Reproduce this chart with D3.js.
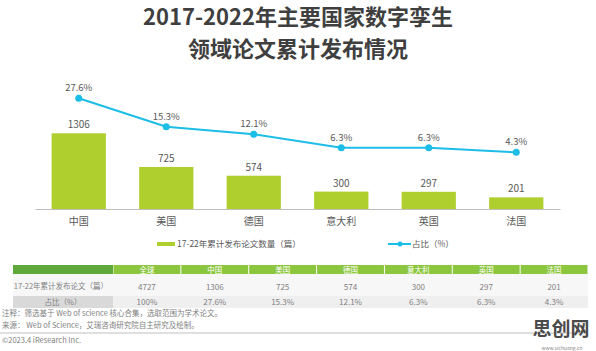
<!DOCTYPE html>
<html>
<head>
<meta charset="utf-8">
<script src="https://cdn.jsdelivr.net/npm/d3@7"></script>
<style>
  body { margin: 0; background: #fff; }
  svg { display: block; font-family: "Noto Sans CJK SC", "Noto Sans", sans-serif; }
</style>
</head>
<body>
<svg width="596" height="351"></svg>
<script>
// data
var countries = ["中国", "美国", "德国", "意大利", "英国", "法国"];
var papers = [1306, 725, 574, 300, 297, 201];
var shares = [27.6, 15.3, 12.1, 6.3, 6.3, 4.3];
var tableHeader = ["全球", "中国", "美国", "德国", "意大利", "英国", "法国"];
var tablePapers = ["4727", "1306", "725", "574", "300", "297", "201"];
var tableShares = ["100%", "27.6%", "15.3%", "12.1%", "6.3%", "6.3%", "4.3%"];

var barColor = "#afcf2f",
  lineColor = "#1cbde6",
  textColor = "#595959";

var svg = d3.select("svg");

// title
svg.append("text")
  .attr("x", 298).attr("y", 25)
  .attr("text-anchor", "middle")
  .attr("font-size", 22).attr("font-weight", "bold")
  .attr("fill", "#3f3f3f")
  .text("2017-2022年主要国家数字孪生");
svg.append("text")
  .attr("x", 298).attr("y", 57)
  .attr("text-anchor", "middle")
  .attr("font-size", 22).attr("font-weight", "bold")
  .attr("fill", "#3f3f3f")
  .text("领域论文累计发布情况");

var x = d3.scaleBand()
  .domain(countries)
  .range([35, 560])
  .paddingInner(0.38)
  .paddingOuter(0.19);

var y = d3.scaleLinear().domain([0, 1306]).range([209, 133.3]);
var y2 = d3.scaleLinear().domain([0, 27.6]).range([162.3, 98.3]);

// bars
svg.append("g").selectAll("rect")
  .data(papers)
  .enter().append("rect")
  .attr("x", function(d, i) { return x(countries[i]); })
  .attr("y", function(d) { return y(d); })
  .attr("width", x.bandwidth())
  .attr("height", function(d) { return y(0) - y(d); })
  .attr("fill", barColor);

svg.append("g").selectAll("text")
  .data(papers)
  .enter().append("text")
  .attr("x", function(d, i) { return x(countries[i]) + x.bandwidth() / 2; })
  .attr("y", function(d) { return y(d) - 5; })
  .attr("text-anchor", "middle")
  .attr("font-size", 10)
  .attr("fill", textColor)
  .text(function(d) { return d; });

// x axis
var xAxis = svg.append("g")
  .attr("transform", "translate(0,209)")
  .call(d3.axisBottom(x).tickSize(0).tickPadding(9));
xAxis.select(".domain").attr("stroke", "#bfbfbf").attr("stroke-width", 1);
xAxis.selectAll("text")
  .attr("font-size", 10)
  .attr("fill", textColor)
  .attr("font-family", "Noto Sans CJK SC");

// share line
var cx = function(i) { return x(countries[i]) + x.bandwidth() / 2; };
var line = d3.line()
  .x(function(d, i) { return cx(i); })
  .y(function(d) { return y2(d); });

svg.append("path")
  .datum(shares)
  .attr("d", line)
  .attr("fill", "none")
  .attr("stroke", lineColor)
  .attr("stroke-width", 2);

svg.append("g").selectAll("circle")
  .data(shares)
  .enter().append("circle")
  .attr("cx", function(d, i) { return cx(i); })
  .attr("cy", function(d) { return y2(d); })
  .attr("r", 3.5)
  .attr("fill", lineColor);

svg.append("g").selectAll("text")
  .data(shares)
  .enter().append("text")
  .attr("x", function(d, i) { return cx(i); })
  .attr("y", function(d) { return y2(d) - 7; })
  .attr("text-anchor", "middle")
  .attr("font-size", 9.5)
  .attr("fill", textColor)
  .text(function(d) { return d.toFixed(1) + "%"; });

// legend
var legend = svg.append("g").attr("font-size", 8.5).attr("fill", textColor);
legend.append("rect")
  .attr("x", 157).attr("y", 242)
  .attr("width", 18).attr("height", 4)
  .attr("fill", barColor);
legend.append("text")
  .attr("x", 177).attr("y", 247)
  .text("17-22年累计发布论文数量（篇）");
legend.append("line")
  .attr("x1", 388).attr("x2", 411)
  .attr("y1", 244).attr("y2", 244)
  .attr("stroke", lineColor).attr("stroke-width", 2);
legend.append("circle")
  .attr("cx", 400).attr("cy", 244).attr("r", 2.5)
  .attr("fill", lineColor);
legend.append("text")
  .attr("x", 412).attr("y", 247)
  .text("占比（%）");

// data table
var col = d3.scaleBand()
  .domain(d3.range(tableHeader.length))
  .range([113, 588]);
var table = svg.append("g").attr("font-size", 8);

table.append("rect")
  .attr("x", 13).attr("y", 265).attr("width", 100).attr("height", 9)
  .attr("fill", "#5fa83a");
table.append("rect")
  .attr("x", 13).attr("y", 274).attr("width", 575).attr("height", 22)
  .attr("fill", "#f7f7f7");
table.append("rect")
  .attr("x", 13).attr("y", 296).attr("width", 575).attr("height", 12)
  .attr("fill", "#efefef");
table.append("rect")
  .attr("x", 13).attr("y", 296).attr("width", 100).attr("height", 12)
  .attr("fill", "#d9d9d9");

table.selectAll(".hd")
  .data(tableHeader)
  .enter().append("rect")
  .attr("class", "hd")
  .attr("x", function(d, i) { return col(i) + 0.5; })
  .attr("y", 265)
  .attr("width", col.bandwidth() - 1)
  .attr("height", 9)
  .attr("fill", "#8cc63e");

table.selectAll(".hdt")
  .data(tableHeader)
  .enter().append("text")
  .attr("class", "hdt")
  .attr("x", function(d, i) { return col(i) + col.bandwidth() / 2; })
  .attr("y", 272.5)
  .attr("text-anchor", "middle")
  .attr("font-size", 7.5)
  .attr("fill", "#fff")
  .text(function(d) { return d; });

table.selectAll(".r1")
  .data(tablePapers)
  .enter().append("text")
  .attr("class", "r1")
  .attr("x", function(d, i) { return col(i) + col.bandwidth() / 2; })
  .attr("y", 289.5)
  .attr("text-anchor", "middle")
  .attr("fill", "#7f7f7f")
  .text(function(d) { return d; });

table.selectAll(".r2")
  .data(tableShares)
  .enter().append("text")
  .attr("class", "r2")
  .attr("x", function(d, i) { return col(i) + col.bandwidth() / 2; })
  .attr("y", 305)
  .attr("text-anchor", "middle")
  .attr("fill", "#7f7f7f")
  .text(function(d) { return d; });

table.append("text")
  .attr("x", 61).attr("y", 289)
  .attr("text-anchor", "middle")
  .attr("font-size", 7.5)
  .attr("fill", "#7f7f7f")
  .text("17-22年累计发布论文（篇）");
table.append("text")
  .attr("x", 63).attr("y", 305)
  .attr("text-anchor", "middle")
  .attr("font-size", 7.5)
  .attr("fill", "#7f7f7f")
  .text("占比（%）");

// notes and footer
var notes = svg.append("g").attr("font-size", 7.5).attr("fill", "#7f7f7f");
notes.append("text").attr("x", 2).attr("y", 316)
  .text("注释：筛选基于 Web of science 核心合集，选取范围为学术论文。");
notes.append("text").attr("x", 2).attr("y", 328)
  .text("来源： Web of Science，艾瑞咨询研究院自主研究及绘制。");
svg.append("line")
  .attr("x1", 0).attr("x2", 588)
  .attr("y1", 333).attr("y2", 333)
  .attr("stroke", "#bfbfbf").attr("stroke-width", 1);
notes.append("text").attr("x", 2).attr("y", 343)
  .text("©2023.4 iResearch Inc.");

// watermark
svg.append("text")
  .attr("x", 561).attr("y", 336)
  .attr("text-anchor", "middle")
  .attr("font-size", 19).attr("font-weight", "bold")
  .attr("fill", "#4a4a4a")
  .text("思创网");
svg.append("text")
  .attr("x", 562).attr("y", 350)
  .attr("text-anchor", "middle")
  .attr("font-size", 5)
  .attr("fill", "#888")
  .text("www.sichuang.cn");
</script>
</body>
</html>
